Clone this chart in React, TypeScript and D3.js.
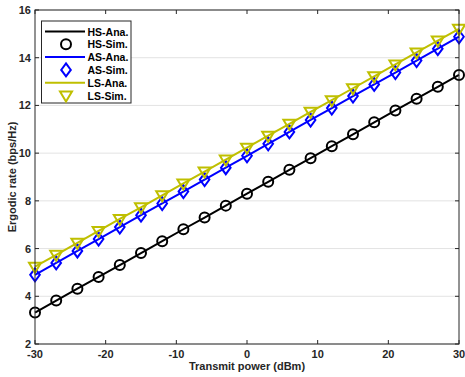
import React from "react";
import * as d3 from "d3";

const powerDbm = [-30, -27, -24, -21, -18, -15, -12, -9, -6, -3, 0, 3, 6, 9, 12, 15, 18, 21, 24, 27, 30];
const hsRate = [3.32, 3.82, 4.32, 4.81, 5.31, 5.81, 6.31, 6.81, 7.30, 7.80, 8.30, 8.80, 9.30, 9.79, 10.29, 10.79, 11.29, 11.79, 12.28, 12.78, 13.28];
const asRate = [4.90, 5.40, 5.90, 6.40, 6.90, 7.40, 7.89, 8.39, 8.89, 9.39, 9.89, 10.39, 10.89, 11.39, 11.89, 12.39, 12.88, 13.38, 13.88, 14.38, 14.88];
const lsRate = [5.24, 5.74, 6.24, 6.74, 7.24, 7.73, 8.23, 8.73, 9.23, 9.73, 10.23, 10.73, 11.23, 11.73, 12.22, 12.72, 13.22, 13.72, 14.22, 14.72, 15.21];
const xTicks = [-30, -20, -10, 0, 10, 20, 30];
const yTicks = [2, 4, 6, 8, 10, 12, 14, 16];
const legendLabels = ["HS-Ana.", "HS-Sim.", "AS-Ana.", "AS-Sim.", "LS-Ana.", "LS-Sim."];

const W = 465, H = 377;
const L = 35, R = 459, T = 10, B = 344;
const FONT = "'Liberation Sans', Arial, Helvetica, sans-serif";
const AX = "#262626";
const BLACK = "#000000", BLUE = "#0000ff", OLIVE = "#bfbf00";

type Shape = "circle" | "diamond" | "triangle";

function Marker({ cx, cy, shape, color }: { cx: number; cy: number; shape: Shape; color: string }) {
  if (shape === "circle") return <circle cx={cx} cy={cy} r={5} fill="none" stroke={color} strokeWidth={2} />;
  if (shape === "diamond") {
    const p = `${cx},${cy - 6.5} ${cx + 4.8},${cy} ${cx},${cy + 6.5} ${cx - 4.8},${cy}`;
    return <polygon points={p} fill="none" stroke={color} strokeWidth={2} />;
  }
  const p = `${cx - 6},${cy - 4} ${cx + 6},${cy - 4} ${cx},${cy + 6}`;
  return <polygon points={p} fill="none" stroke={color} strokeWidth={2} />;
}

export default function App() {
  const x = d3.scaleLinear().domain([-30, 30]).range([L, R]);
  const y = d3.scaleLinear().domain([2, 16]).range([B, T]);
  const series: { vals: number[]; color: string; shape: Shape }[] = [
    { vals: hsRate, color: BLACK, shape: "circle" },
    { vals: asRate, color: BLUE, shape: "diamond" },
    { vals: lsRate, color: OLIVE, shape: "triangle" },
  ];
  const line = d3.line<number>().x((_, i) => x(powerDbm[i])).y((v) => y(v));

  const legX = 41.5, legY = 21, legW = 89.5, legH = 82;
  const rowY = (i: number) => legY + 10.5 + i * 12.8;

  return (
    <svg width={W} height={H} style={{ position: "absolute", left: 0, top: 0, background: "#fff" }} fontFamily={FONT}>
      <rect x={0} y={0} width={W} height={H} fill="#fff" />
      {/* grid */}
      {yTicks.map((t) => (
        <line key={"g" + t} x1={L} x2={R} y1={y(t)} y2={y(t)} stroke="#e3e3e3" strokeWidth={1} />
      ))}
      {/* series */}
      {series.map((s, si) => (
        <g key={si}>
          <path d={line(s.vals) || ""} fill="none" stroke={s.color} strokeWidth={2} />
          {s.vals.map((v, i) => (
            <Marker key={i} cx={x(powerDbm[i])} cy={y(v)} shape={s.shape} color={s.color} />
          ))}
        </g>
      ))}
      {/* axes box */}
      <rect x={L} y={T} width={R - L} height={B - T} fill="none" stroke={AX} strokeWidth={1} />
      {xTicks.map((t) => (
        <g key={"x" + t}>
          <line x1={x(t)} x2={x(t)} y1={B} y2={B - 4} stroke={AX} />
          <line x1={x(t)} x2={x(t)} y1={T} y2={T + 4} stroke={AX} />
          <text x={x(t)} y={358} textAnchor="middle" fontSize={11} fontWeight="bold" fill={AX}>{t}</text>
        </g>
      ))}
      {yTicks.map((t) => (
        <g key={"y" + t}>
          <line x1={L} x2={L + 4} y1={y(t)} y2={y(t)} stroke={AX} />
          <line x1={R} x2={R - 4} y1={y(t)} y2={y(t)} stroke={AX} />
          <text x={31} y={y(t) + 4} textAnchor="end" fontSize={11} fontWeight="bold" fill={AX}>{t}</text>
        </g>
      ))}
      <text x={(L + R) / 2} y={370} textAnchor="middle" fontSize={11} fontWeight="bold" fill={AX}>Transmit power (dBm)</text>
      <text transform={`translate(16,${(T + B) / 2}) rotate(-90)`} textAnchor="middle" fontSize={11} fontWeight="bold" fill={AX}>Ergodic rate (bps/Hz)</text>
      {/* legend */}
      <rect x={legX} y={legY} width={legW} height={legH} fill="#fff" stroke={AX} strokeWidth={1} />
      {legendLabels.map((lab, i) => {
        const s = series[Math.floor(i / 2)];
        const yy = rowY(i);
        return (
          <g key={lab}>
            {i % 2 === 0 ? (
              <line x1={45} x2={85} y1={yy} y2={yy} stroke={s.color} strokeWidth={2} />
            ) : (
              <Marker cx={66} cy={yy} shape={s.shape} color={s.color} />
            )}
            <text x={87.5} y={yy + 4} fontSize={10.5} fontWeight="bold" fill="#000">{lab}</text>
          </g>
        );
      })}
    </svg>
  );
}
